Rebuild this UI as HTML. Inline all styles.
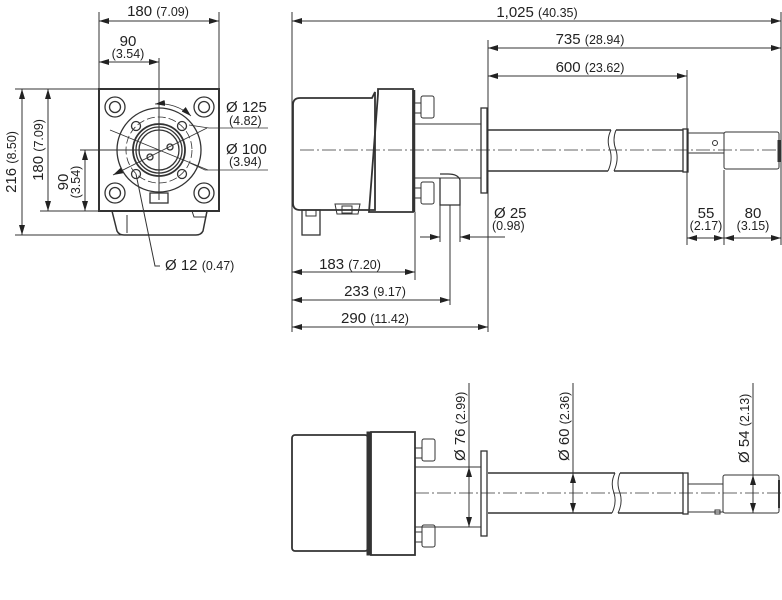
<!DOCTYPE html>
<html><head><meta charset="utf-8"><style>
html,body{margin:0;padding:0;background:#fff;}
svg{display:block;}
text{font-family:"Liberation Sans",sans-serif;fill:#222;}
.b{font-size:15px;}
.s{font-size:12.5px;}
</style></head><body>
<svg width="782" height="600" viewBox="0 0 782 600" xmlns="http://www.w3.org/2000/svg">
<defs>
<marker id="a" viewBox="0 0 10 6" refX="10" refY="3" markerWidth="10" markerHeight="6" orient="auto-start-reverse" markerUnits="userSpaceOnUse"><path d="M0,0 L10,3 L0,6 z" fill="#222"/></marker>
</defs>
<g stroke="#333" fill="none" stroke-width="1">
<!-- ===== front view ===== -->
<line x1="99" y1="12" x2="99" y2="89"/>
<line x1="219" y1="12" x2="219" y2="89"/>
<line x1="99" y1="21" x2="219" y2="21" marker-start="url(#a)" marker-end="url(#a)"/>
<line x1="99" y1="62" x2="159" y2="62" marker-start="url(#a)" marker-end="url(#a)"/>
<line x1="159" y1="58" x2="159" y2="200"/>
<line x1="15" y1="89" x2="99" y2="89"/>
<line x1="40" y1="211" x2="99" y2="211"/>
<line x1="15" y1="235" x2="122" y2="235"/>
<line x1="80" y1="150" x2="159" y2="150"/>
<line x1="22" y1="89" x2="22" y2="235" marker-start="url(#a)" marker-end="url(#a)"/>
<line x1="48" y1="89" x2="48" y2="211" marker-start="url(#a)" marker-end="url(#a)"/>
<line x1="85" y1="150" x2="85" y2="211" marker-start="url(#a)" marker-end="url(#a)"/>
<rect x="99" y="89" width="120" height="122" stroke-width="2"/>
<path d="M112,211 L117,231 Q119,235 124,235 L196,235 Q201,235 203,231 L207,211" stroke-width="1.5"/>
<line x1="127" y1="215" x2="127" y2="233"/>
<path d="M192,211 L194,217 L206,217 L207,211"/>
<g stroke-width="1.3">
<circle cx="115" cy="107" r="10"/><circle cx="115" cy="107" r="5.5"/>
<circle cx="204" cy="107" r="10"/><circle cx="204" cy="107" r="5.5"/>
<circle cx="115" cy="193" r="10"/><circle cx="115" cy="193" r="5.5"/>
<circle cx="204" cy="193" r="10"/><circle cx="204" cy="193" r="5.5"/>
<circle cx="159" cy="150" r="42"/>
<circle cx="159" cy="150" r="33" stroke-dasharray="8 3" stroke-width="0.8"/>
<circle cx="159" cy="150" r="26" stroke-width="1.8"/>
<circle cx="159" cy="150" r="23"/>
<circle cx="159" cy="150" r="20"/>
<circle cx="136" cy="126" r="4.5"/><circle cx="182" cy="126" r="4.5"/>
<circle cx="136" cy="174" r="4.5"/><circle cx="182" cy="174" r="4.5"/>
<circle cx="150" cy="157" r="3"/><circle cx="170" cy="147" r="3"/>
<rect x="150" y="193" width="18" height="10"/>
</g>
<line x1="110" y1="130" x2="208" y2="170" stroke-width="0.8"/>
<line x1="113" y1="175" x2="207" y2="128" stroke-width="0.8" marker-start="url(#a)"/>
<path d="M155,104 A46,46 0 0 1 191,116" marker-start="url(#a)" marker-end="url(#a)" stroke-width="0.8"/>
<polyline points="189,125 209,128 268,128" stroke-width="0.8"/>
<polyline points="190,163 205,170 268,170" stroke-width="0.8"/>
<polyline points="136,174 155,266 160,266"/>
<!-- ===== side view top ===== -->
<line x1="292" y1="12" x2="292" y2="332"/>
<line x1="488" y1="40" x2="488" y2="332"/>
<line x1="687" y1="70" x2="687" y2="245"/>
<line x1="781" y1="12" x2="781" y2="245"/>
<line x1="292" y1="21" x2="781" y2="21" marker-start="url(#a)" marker-end="url(#a)"/>
<line x1="488" y1="48" x2="781" y2="48" marker-start="url(#a)" marker-end="url(#a)"/>
<line x1="488" y1="76" x2="687" y2="76" marker-start="url(#a)" marker-end="url(#a)"/>
<path d="M300,98 L372,98 L375,92 L375,210 L300,210 Q293,210 293,203 L293,105 Q293,98 300,98 Z" stroke-width="1.8"/>
<path d="M378,89 L413,89 L413,212 L369,212 L378,94 Z" stroke-width="1.8"/>
<line x1="414" y1="90" x2="414" y2="212" stroke-width="2.5"/>
<rect x="414" y="103" width="7" height="10"/><rect x="421" y="96" width="13" height="22" rx="2"/>
<rect x="414" y="188" width="7" height="10"/><rect x="421" y="182" width="13" height="22" rx="2"/>
<rect x="414" y="124" width="67" height="54"/>
<rect x="481" y="108" width="6" height="85" stroke-width="1.3"/>
<path d="M488,130 L611,130 M488,171 L608,171 M616,130 L683,130 M614,171 L683,171" stroke-width="1.5"/>
<path d="M611,130 Q606,140 610,150 Q613,160 608,171 M616,130 Q612,140 616,150 Q619,160 614,171"/>
<rect x="683" y="129" width="5" height="43" stroke-width="1.3"/>
<rect x="688" y="133" width="36" height="20"/>
<circle cx="715" cy="143" r="2.5"/>
<rect x="724" y="132" width="55" height="37" rx="2"/>
<line x1="779" y1="140" x2="779" y2="162" stroke-width="3"/>
<line x1="300" y1="150" x2="782" y2="150" stroke-dasharray="14 3 2 3" stroke-width="0.8"/>
<rect x="302" y="210" width="18" height="25" stroke-width="1.3"/>
<rect x="306" y="210" width="10" height="6"/>
<path d="M335,204 L360,204 L358,214 L337,214 Z"/>
<rect x="342" y="206" width="10" height="7"/>
<path d="M440,178 L440,205 L460,205 L460,180 Q458,174 448,174 L440,174" stroke-width="1.3"/>
<line x1="440" y1="205" x2="440" y2="242"/><line x1="460" y1="205" x2="460" y2="242"/>
<line x1="450" y1="205" x2="450" y2="305"/>
<line x1="415" y1="212" x2="415" y2="280"/>
<line x1="420" y1="237" x2="440" y2="237" marker-end="url(#a)"/>
<line x1="480" y1="237" x2="460" y2="237" marker-end="url(#a)"/>
<line x1="480" y1="237" x2="505" y2="237"/>
<line x1="724" y1="170" x2="724" y2="245"/>
<line x1="687" y1="238" x2="724" y2="238" marker-start="url(#a)" marker-end="url(#a)"/>
<line x1="724" y1="238" x2="781" y2="238" marker-start="url(#a)" marker-end="url(#a)"/>
<line x1="292" y1="272" x2="415" y2="272" marker-start="url(#a)" marker-end="url(#a)"/>
<line x1="292" y1="300" x2="450" y2="300" marker-start="url(#a)" marker-end="url(#a)"/>
<line x1="292" y1="327" x2="488" y2="327" marker-start="url(#a)" marker-end="url(#a)"/>
<!-- ===== bottom view ===== -->
<rect x="292" y="435" width="76" height="116" rx="3" stroke-width="1.8"/>
<rect x="367" y="432" width="4" height="123" fill="#333"/>
<rect x="371" y="432" width="44" height="123" stroke-width="1.8"/>
<rect x="415" y="448" width="7" height="10"/><rect x="422" y="439" width="13" height="22" rx="2"/>
<rect x="415" y="532" width="7" height="10"/><rect x="422" y="525" width="13" height="22" rx="2"/>
<rect x="415" y="467" width="66" height="60"/>
<rect x="481" y="451" width="6" height="85" stroke-width="1.3"/>
<path d="M488,473 L615,473 M488,513 L612,513 M620,473 L683,473 M618,513 L683,513" stroke-width="1.5"/>
<path d="M615,473 Q610,483 614,493 Q617,503 612,513 M620,473 Q616,483 620,493 Q623,503 618,513"/>
<rect x="683" y="473" width="5" height="41" stroke-width="1.3"/>
<rect x="688" y="484" width="35" height="28"/>
<rect x="715" y="510" width="5" height="4"/>
<rect x="723" y="475" width="56" height="38" rx="2"/>
<line x1="779" y1="480" x2="779" y2="508" stroke-width="2"/>
<line x1="415" y1="493" x2="782" y2="493" stroke-dasharray="14 3 2 3" stroke-width="0.8"/>
<line x1="469" y1="383" x2="469" y2="467"/>
<line x1="469" y1="467" x2="469" y2="527" marker-start="url(#a)" marker-end="url(#a)"/>
<line x1="573" y1="383" x2="573" y2="473"/>
<line x1="573" y1="473" x2="573" y2="513" marker-start="url(#a)" marker-end="url(#a)"/>
<line x1="753" y1="383" x2="753" y2="475"/>
<line x1="753" y1="475" x2="753" y2="513" marker-start="url(#a)" marker-end="url(#a)"/>
</g>
<!-- texts -->
<text x="158" y="16" text-anchor="middle"><tspan class="b">180 </tspan><tspan class="s">(7.09)</tspan></text>
<text x="128" y="46" text-anchor="middle" class="b">90</text>
<text x="128" y="58" text-anchor="middle" class="s">(3.54)</text>
<text transform="translate(16,162) rotate(-90)" text-anchor="middle"><tspan class="b">216 </tspan><tspan class="s">(8.50)</tspan></text>
<text transform="translate(43,150) rotate(-90)" text-anchor="middle"><tspan class="b">180 </tspan><tspan class="s">(7.09)</tspan></text>
<text transform="translate(68,182) rotate(-90)" text-anchor="middle" class="b">90</text>
<text transform="translate(80,182) rotate(-90)" text-anchor="middle" class="s">(3.54)</text>
<text x="226" y="112" class="b">Ø 125</text>
<text x="229" y="125" class="s">(4.82)</text>
<text x="226" y="154" class="b">Ø 100</text>
<text x="229" y="166" class="s">(3.94)</text>
<text x="165" y="270"><tspan class="b">Ø 12 </tspan><tspan class="s">(0.47)</tspan></text>
<text x="537" y="17" text-anchor="middle"><tspan class="b">1,025 </tspan><tspan class="s">(40.35)</tspan></text>
<text x="590" y="44" text-anchor="middle"><tspan class="b">735 </tspan><tspan class="s">(28.94)</tspan></text>
<text x="590" y="72" text-anchor="middle"><tspan class="b">600 </tspan><tspan class="s">(23.62)</tspan></text>
<text x="494" y="218" class="b">Ø 25</text>
<text x="492" y="230" class="s">(0.98)</text>
<text x="706" y="218" text-anchor="middle" class="b">55</text>
<text x="706" y="230" text-anchor="middle" class="s">(2.17)</text>
<text x="753" y="218" text-anchor="middle" class="b">80</text>
<text x="753" y="230" text-anchor="middle" class="s">(3.15)</text>
<text x="350" y="269" text-anchor="middle"><tspan class="b">183 </tspan><tspan class="s">(7.20)</tspan></text>
<text x="375" y="296" text-anchor="middle"><tspan class="b">233 </tspan><tspan class="s">(9.17)</tspan></text>
<text x="375" y="323" text-anchor="middle"><tspan class="b">290 </tspan><tspan class="s">(11.42)</tspan></text>
<text transform="translate(465,461) rotate(-90)"><tspan class="b">Ø 76 </tspan><tspan class="s">(2.99)</tspan></text>
<text transform="translate(569,461) rotate(-90)"><tspan class="b">Ø 60 </tspan><tspan class="s">(2.36)</tspan></text>
<text transform="translate(749,463) rotate(-90)"><tspan class="b">Ø 54 </tspan><tspan class="s">(2.13)</tspan></text>
</svg>
</body></html>
